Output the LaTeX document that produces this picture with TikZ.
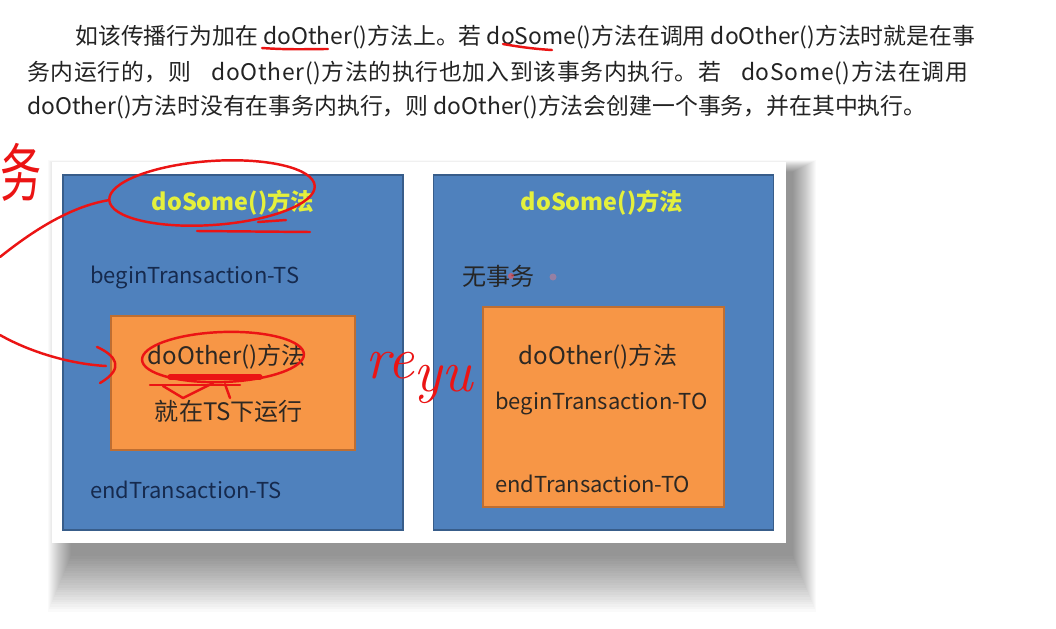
\documentclass[tikz,border=0pt]{standalone}
\usepackage{fontspec}
\setmainfont{Noto Sans CJK SC}
\newfontfamily\handfont{Latin Modern Roman}
\usetikzlibrary{shapes.geometric}
\definecolor{boxblue}{RGB}{79,129,189}
\definecolor{boxedge}{RGB}{56,93,138}
\definecolor{boxorange}{RGB}{247,150,70}
\definecolor{orangeedge}{RGB}{190,110,50}
\definecolor{titleyellow}{RGB}{228,240,60}
\definecolor{navytext}{RGB}{22,42,78}
\definecolor{calltext}{RGB}{45,40,35}
\definecolor{paratext}{RGB}{35,35,35}
\definecolor{inkred}{RGB}{235,20,20}
\begin{document}
\begin{tikzpicture}[
  x=0.02cm, y=-0.02cm,
  para/.style={anchor=base west,inner sep=0pt,text=paratext,font=\fontsize{13pt}{16pt}\selectfont},
  methodbox/.style={rectangle,draw=boxedge,line width=0.9pt,fill=boxblue,minimum width=6.8cm,minimum height=7.1cm},
  callbox/.style={rectangle,draw=orangeedge,line width=0.8pt,fill=boxorange},
  boxtitle/.style={inner sep=0pt,text=titleyellow,font=\fontsize{13.3pt}{16pt}\selectfont\bfseries},
  boxtext/.style={inner sep=0pt,font=\fontsize{13.7pt}{16pt}\selectfont},
  txline/.style={boxtext,anchor=west,font=\fontsize{12.5pt}{16pt}\selectfont},
  ink/.style={draw=inkred,line width=1.4pt,line cap=round,line join=round}
]
\useasboundingbox (0,0) rectangle (1056,629);
\fill[white] (0,0) rectangle (1056,629);

% text above the figure
\node[para] (line1) at (75,44) {如该传播行为加在 doOther()方法上。若 doSome()方法在调用 doOther()方法时就是在事};
\node[para] (line2) at (27,80) {\makebox[18.82cm][s]{\addfontfeatures{LetterSpace=3}务内运行的，则 doOther()方法的执行也加入到该事务内执行。若 doSome()方法在调用}};
\node[para] (line3) at (27,114) {doOther()方法时没有在事务内执行，则 doOther()方法会创建一个事务，并在其中执行。};

% card with its shadow
\foreach \k in {1,...,24}
  \fill[black,opacity=0.02] (72-\k,172-0.5*\k) rectangle (792+\k,554+2.4*\k);
\fill[white] (52,162) rectangle (786,543);

% the two methods
\node[methodbox] (someL) at (233,352.5) {};
\node[methodbox] (someR) at (603.5,352.5) {};
\node[callbox,minimum width=4.88cm,minimum height=2.68cm] (otherL) at (233,383) {};
\node[callbox,minimum width=4.82cm,minimum height=4cm] (otherR) at (603.5,407) {};

\node[boxtitle] (titleL) at (233,203) {doSome()方法};
\node[txline,text=navytext] (beginTS) at (90,278) {beginTransaction-TS};
\node[txline,text=navytext] (endTS) at (90,490) {endTransaction-TS};
\node[boxtext,text=calltext] (callL) at (227,357) {doOther()方法};
\node[boxtext,text=calltext] (runL) at (229,411) {就在TS下运行};

\node[boxtitle] (titleR) at (602,203) {doSome()方法};
\node[boxtext,anchor=west,text=black!85] (noTx) at (462,276) {无事务};
\node[boxtext,text=calltext] (callR) at (598,357) {doOther()方法};
\node[txline,text=calltext] (beginTO) at (495,403) {beginTransaction-TO};
\node[txline,text=calltext] (endTO) at (495,484) {endTransaction-TO};

\fill[red!70,opacity=0.6] (511,276) circle [radius=3];
\fill[red!50,opacity=0.4] (553,277) circle [radius=3.5];

% red pen marks
\draw[ink] (262,48) .. controls (290,50) and (310,49) .. (328,49);
\draw[ink] (503,44) .. controls (520,47) and (535,49) .. (552,50);
\node[text=inkred,font=\fontsize{36pt}{40pt}\selectfont,xscale=0.65,inner sep=0pt] (wu) at (21,172) {务};

\node[ink,ellipse,minimum width=4.12cm,minimum height=1.28cm,rotate=4,inner sep=0pt] (ringL) at (212,193) {};
\draw[ink] (197,231) -- (310,232);
\draw[ink] (258,222) -- (286,220);
\coordinate (edgeA) at (0,257);
\coordinate (edgeB) at (0,335);
\coordinate (tip) at (106,366);
\draw[ink] (ringL.west) .. controls (75,206) and (40,225) .. (edgeA);
\draw[ink] (edgeB) .. controls (30,352) and (70,364) .. (tip);
\draw[ink] (97,347) .. controls (115,355) and (126,368) .. (100,383);

\node[ink,ellipse,minimum width=3.24cm,minimum height=1cm,rotate=2,inner sep=0pt] (ringO) at (223,357) {};
\draw[ink] (150,385) -- (240,385);
\draw[ink,line width=3pt] (170,377) -- (260,377);
\draw[ink] (163,386) -- (183,398) -- (213,383);
\draw[ink] (225,384) -- (230,398);

\node[text=inkred,font=\fontsize{34pt}{36pt}\handfont\itshape,inner sep=0pt] (re) at (390,366) {re};
\node[text=inkred,font=\fontsize{34pt}{36pt}\handfont\itshape,inner sep=0pt] (yu) at (443,384) {yu};
\end{tikzpicture}
\end{document}
